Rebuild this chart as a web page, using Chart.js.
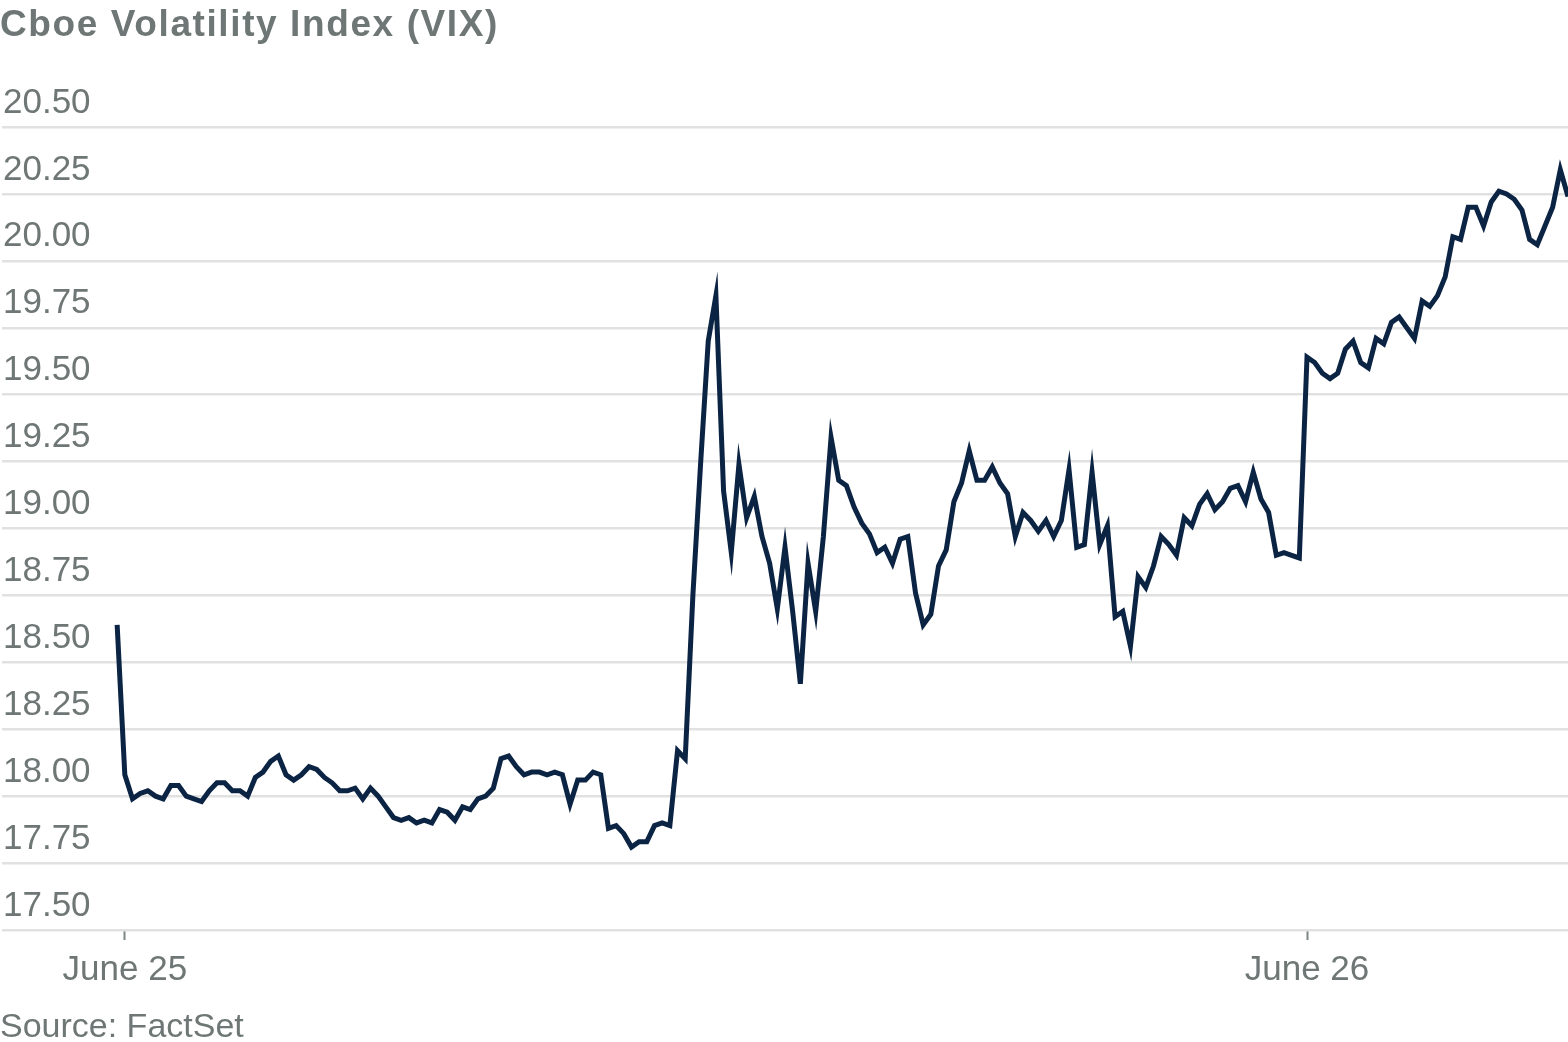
<!DOCTYPE html>
<html>
<head>
<meta charset="utf-8">
<script src="https://cdn.jsdelivr.net/npm/chart.js@4"></script>
<style>
  html, body { margin: 0; padding: 0; background: #fff; overflow: hidden; }
  #wrap { position: relative; width: 1568px; height: 1042px; }
</style>
</head>
<body>
<div id="wrap"><canvas id="vixChart"></canvas></div>
<script>
'use strict';

/* ── Data (evenly spaced intraday prints) ── */
const june25 = [
    18.64, 18.08, 17.99, 18.01, 18.02, 18.00, 17.99, 18.04, 18.04, 18.00, 17.99,
    17.98, 18.02, 18.05, 18.05, 18.02, 18.02, 18.00, 18.07, 18.09, 18.13,
    18.15, 18.08, 18.06, 18.08, 18.11, 18.10, 18.07, 18.05, 18.02, 18.02,
    18.03, 17.99, 18.03, 18.00, 17.96, 17.92, 17.91, 17.92, 17.90, 17.91,
    17.90, 17.95, 17.94, 17.91, 17.96, 17.95, 17.99, 18.00, 18.03, 18.14,
    18.15, 18.11, 18.08, 18.09, 18.09, 18.08, 18.09, 18.08, 17.97, 18.06,
    18.06, 18.09, 18.08, 17.88, 17.89, 17.86, 17.81, 17.83, 17.83, 17.89,
    17.90, 17.89, 18.17, 18.14, 18.75, 19.24, 19.70, 19.87, 19.14, 18.91,
    19.24, 19.04, 19.12, 18.97, 18.87, 18.70, 18.93, 18.69, 18.42, 18.87,
    18.69, 18.97, 19.34, 19.18, 19.16, 19.08, 19.02, 18.98, 18.91, 18.93,
    18.87, 18.96, 18.97, 18.76, 18.64, 18.68, 18.86, 18.92, 19.10, 19.17,
    19.29, 19.18, 19.18, 19.23, 19.17, 19.13, 18.97, 19.06, 19.03, 18.99,
    19.03, 18.97, 19.03, 19.22, 18.93, 18.94, 19.21, 18.94, 19.01, 18.67,
    18.69, 18.56, 18.82, 18.78, 18.86, 18.97, 18.94, 18.90, 19.04, 19.01,
    19.09, 19.13, 19.07, 19.10, 19.15, 19.16, 19.10, 19.21, 19.11, 19.06,
    18.90, 18.91, 18.90, 18.89
];
const june26 = [
    19.64, 19.62, 19.58, 19.56, 19.58, 19.67, 19.70, 19.62, 19.60, 19.71,
    19.69, 19.77, 19.79, 19.75, 19.71, 19.85, 19.83, 19.87, 19.94, 20.09,
    20.08, 20.20, 20.20, 20.13, 20.22, 20.26, 20.25, 20.23, 20.19, 20.08,
    20.06, 20.13, 20.20, 20.34, 20.24
];
const dayLabels = ['June 25', 'June 26'];
const dayStarts = [1, june25.length];          // index of each session's first print
const yTicks    = [17.50, 17.75, 18.00, 18.25, 18.50, 18.75, 19.00, 19.25, 19.50, 19.75, 20.00, 20.25, 20.50];

const TITLE  = 'Cboe Volatility Index (VIX)';
const SOURCE = 'Source: FactSet';

const GREY  = '#6e7775';
const NAVY  = '#0c2444';
const GRID  = '#e1e1e1';
const FONT  = '"Liberation Sans", Arial, sans-serif';

const series = june25.concat(june26).map((v, i) => ({ x: i, y: v }));

/* ── title + source drawn straight on the canvas ── */
const pageText = {
    id: 'pageText',
    afterDraw(chart) {
        const ctx = chart.ctx;
        ctx.save();
        ctx.fillStyle = GREY;
        ctx.textAlign = 'left';
        ctx.textBaseline = 'alphabetic';
        ctx.font = `700 37px ${FONT}`;
        ctx.letterSpacing = '1.6px';
        ctx.fillText(TITLE, 0, 36);
        ctx.letterSpacing = '0px';
        ctx.font = `34px ${FONT}`;
        ctx.fillText(SOURCE, 0, 1037);
        ctx.restore();
    }
};

new Chart(document.getElementById('vixChart'), {
    type: 'line',
    data: {
        datasets: [{
            data: series,
            borderColor: NAVY,
            borderWidth: 5,
            pointRadius: 0,
            tension: 0,
            fill: false
        }]
    },
    options: {
        responsive: true,
        maintainAspectRatio: false,
        animation: false,
        layout: { padding: { top: 127, right: 0, bottom: 42, left: 0 } },
        plugins: { legend: { display: false }, tooltip: { enabled: false } },
        scales: {
            x: {
                type: 'linear',
                min: -15,
                max: june25.length + june26.length - 1,
                border: { display: false },
                grid: {
                    drawOnChartArea: false,
                    drawTicks: true,
                    tickLength: 10,
                    tickColor: '#7d8584',
                    tickWidth: 2
                },
                afterBuildTicks: s => { s.ticks = dayStarts.map(v => ({ value: v })); },
                ticks: {
                    autoSkip: false,
                    maxRotation: 0,
                    padding: 9,
                    color: GREY,
                    font: { family: FONT, size: 35 },
                    callback: (v, i) => dayLabels[i]
                }
            },
            y: {
                min: 17.5,
                max: 20.5,
                border: { display: false },
                grid: { color: GRID, lineWidth: 2.5, drawTicks: false },
                afterBuildTicks: s => { s.ticks = yTicks.map(v => ({ value: v })); },
                ticks: {
                    mirror: true,
                    padding: 1,
                    labelOffset: -24,
                    color: GREY,
                    font: { family: FONT, size: 35 },
                    callback: v => Number(v).toFixed(2)
                }
            }
        }
    },
    plugins: [pageText]
});
</script>
</body>
</html>
